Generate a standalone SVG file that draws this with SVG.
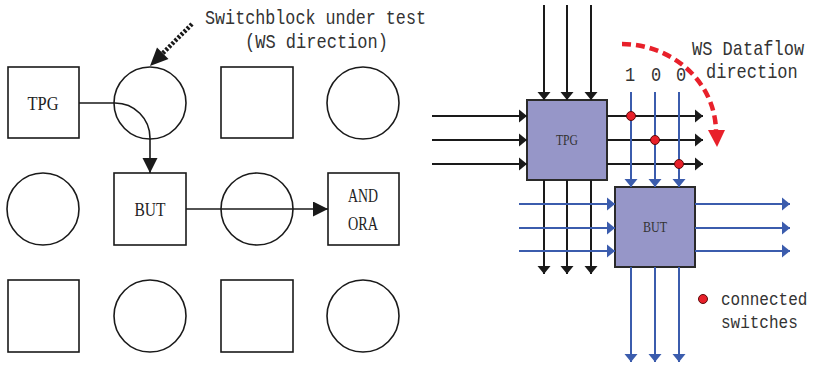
<svg xmlns="http://www.w3.org/2000/svg" width="813" height="366" viewBox="0 0 813 366">
<style>
.sh{fill:#fff;stroke:#1a1a1a;stroke-width:1.6}
.lbl{font-family:"Liberation Serif",serif;font-size:19px;fill:#222;text-anchor:middle}
.mono{font-family:"Liberation Mono",monospace;font-size:20px;fill:#333}
.m17{font-family:"Liberation Mono",monospace;font-size:17px;fill:#333}
.m16{font-family:"Liberation Mono",monospace;font-size:16px;fill:#333}
.blk{fill:#9696C8;stroke:#2a2a2a;stroke-width:2}
.bl{font-family:"Liberation Serif",serif;font-size:15px;fill:#333;text-anchor:middle}
.k{stroke:#1a1a1a;stroke-width:2;fill:none}
.b{stroke:#3B5CAD;stroke-width:2;fill:none}
.c{stroke:#1a1a1a;stroke-width:1.6;fill:none}
.dot{fill:#E8202A;stroke:#5a0a0a;stroke-width:1}
</style>
<defs>
<marker id="ak" markerUnits="userSpaceOnUse" markerWidth="9" markerHeight="14" refX="8" refY="7" orient="auto"><path d="M0,0.5 L8,7 L0,13.5 z" fill="#1a1a1a"/></marker>
<marker id="ab" markerUnits="userSpaceOnUse" markerWidth="9" markerHeight="14" refX="8" refY="7" orient="auto"><path d="M0,0.5 L8,7 L0,13.5 z" fill="#3B5CAD"/></marker>
<marker id="al" markerUnits="userSpaceOnUse" markerWidth="16" markerHeight="16" refX="15" refY="7.5" orient="auto"><path d="M0,0 L15,7.5 L0,15 z" fill="#1a1a1a"/></marker>
</defs>

<!-- left grid -->
<g id="n-tpg"><rect class="sh" x="8" y="67" width="71" height="71"/><text class="lbl" x="43" y="110" textLength="31" lengthAdjust="spacingAndGlyphs">TPG</text></g>
<g id="n-c12"><circle class="sh" cx="150" cy="103" r="36"/></g>
<g id="n-s13"><rect class="sh" x="221" y="67" width="72" height="71"/></g>
<g id="n-c14"><circle class="sh" cx="363" cy="103" r="36"/></g>

<g id="n-c21"><circle class="sh" cx="43" cy="209" r="36"/></g>
<g id="n-but"><rect class="sh" x="114" y="173" width="72" height="72"/><text class="lbl" x="150" y="216" textLength="31" lengthAdjust="spacingAndGlyphs">BUT</text></g>
<g id="n-c23"><circle class="sh" cx="257" cy="209" r="36"/></g>
<g id="n-ora"><rect class="sh" x="328" y="173" width="71" height="72"/><text class="lbl" x="363" y="202" textLength="30" lengthAdjust="spacingAndGlyphs">AND</text><text class="lbl" x="363" y="230" textLength="30" lengthAdjust="spacingAndGlyphs">ORA</text></g>

<g id="n-s31"><rect class="sh" x="8" y="280" width="71" height="72"/></g>
<g id="n-c32"><circle class="sh" cx="150" cy="316" r="36"/></g>
<g id="n-s33"><rect class="sh" x="221" y="280" width="72" height="72"/></g>
<g id="n-c34"><circle class="sh" cx="363" cy="316" r="36"/></g>

<g id="n-note1">
<text class="mono" x="205" y="24" textLength="221" lengthAdjust="spacingAndGlyphs">Switchblock under test</text>
<text class="mono" x="245" y="48" textLength="143" lengthAdjust="spacingAndGlyphs">(WS direction)</text>
</g>

<!-- right side blocks -->
<g id="n-rtpg"><rect class="blk" x="527" y="100" width="80" height="80"/><text class="bl" x="567" y="145" textLength="22" lengthAdjust="spacingAndGlyphs">TPG</text></g>
<g id="n-rbut"><rect class="blk" x="615" y="187" width="80" height="80"/><text class="bl" x="655" y="232" textLength="24" lengthAdjust="spacingAndGlyphs">BUT</text></g>

<g id="n-note2">
<text class="m17" transform="translate(692,55) scale(1,1.2)">WS Dataflow</text>
<text class="m17" transform="translate(706,78) scale(1,1.2)">direction</text>
<text class="m17" transform="translate(630,81) scale(1,1.2)" text-anchor="middle">1</text>
<text class="m17" transform="translate(656,81) scale(1,1.2)" text-anchor="middle">0</text>
<text class="m17" transform="translate(681,81) scale(1,1.2)" text-anchor="middle">0</text>
</g>

<g id="n-legend">
<circle class="dot" cx="703" cy="299" r="4.5"/>
<text class="m16" transform="translate(721,305) scale(1,1.2)">connected</text>
<text class="m16" transform="translate(721,328) scale(1,1.2)">switches</text>
</g>

<g id="connectors">
<!-- left -->
<path class="c" d="M79,103 H115 A35,35 0 0 1 150,138 V173" marker-end="url(#al)"/>
<path class="c" d="M186,209 H328" marker-end="url(#al)"/>
<line x1="192" y1="24" x2="162" y2="54" stroke="#1a1a1a" stroke-width="4.5" stroke-dasharray="2.5 1.8"/>
<polygon points="150,66 157,47.5 168.5,59" fill="#1a1a1a"/>

<!-- TPG inputs -->
<path class="k" d="M544,5 V100" marker-end="url(#ak)"/>
<path class="k" d="M567,5 V100" marker-end="url(#ak)"/>
<path class="k" d="M591,5 V100" marker-end="url(#ak)"/>
<path class="k" d="M432,116 H527" marker-end="url(#ak)"/>
<path class="k" d="M432,140 H527" marker-end="url(#ak)"/>
<path class="k" d="M432,164 H527" marker-end="url(#ak)"/>
<!-- TPG outputs -->
<path class="k" d="M607,116 H703" marker-end="url(#ak)"/>
<path class="k" d="M607,140 H703" marker-end="url(#ak)"/>
<path class="k" d="M607,164 H703" marker-end="url(#ak)"/>
<!-- BUT inputs (blue vertical) -->
<path class="b" d="M631,92 V187" marker-end="url(#ab)"/>
<path class="b" d="M655,92 V187" marker-end="url(#ab)"/>
<path class="b" d="M679,92 V187" marker-end="url(#ab)"/>
<!-- TPG outputs down -->
<path class="k" d="M544,180 V274" marker-end="url(#ak)"/>
<path class="k" d="M567,180 V274" marker-end="url(#ak)"/>
<path class="k" d="M591,180 V274" marker-end="url(#ak)"/>
<!-- BUT inputs (blue horizontal) -->
<path class="b" d="M519,204 H615" marker-end="url(#ab)"/>
<path class="b" d="M519,228 H615" marker-end="url(#ab)"/>
<path class="b" d="M519,251 H615" marker-end="url(#ab)"/>
<!-- BUT outputs -->
<path class="b" d="M695,204 H790" marker-end="url(#ab)"/>
<path class="b" d="M695,228 H790" marker-end="url(#ab)"/>
<path class="b" d="M695,251 H790" marker-end="url(#ab)"/>
<path class="b" d="M631,267 V362" marker-end="url(#ab)"/>
<path class="b" d="M655,267 V362" marker-end="url(#ab)"/>
<path class="b" d="M679,267 V362" marker-end="url(#ab)"/>
<!-- connected switches -->
<circle class="dot" cx="631" cy="116" r="4.5"/>
<circle class="dot" cx="655" cy="140" r="4.5"/>
<circle class="dot" cx="679" cy="164" r="4.5"/>
<!-- dataflow direction -->
<path d="M622,44 C670,44 715,80 716,131" fill="none" stroke="#E8202A" stroke-width="4.5" stroke-dasharray="9 5"/>
<polygon points="708,130 725,130 717,147" fill="#E8202A"/>
</g>
</svg>
